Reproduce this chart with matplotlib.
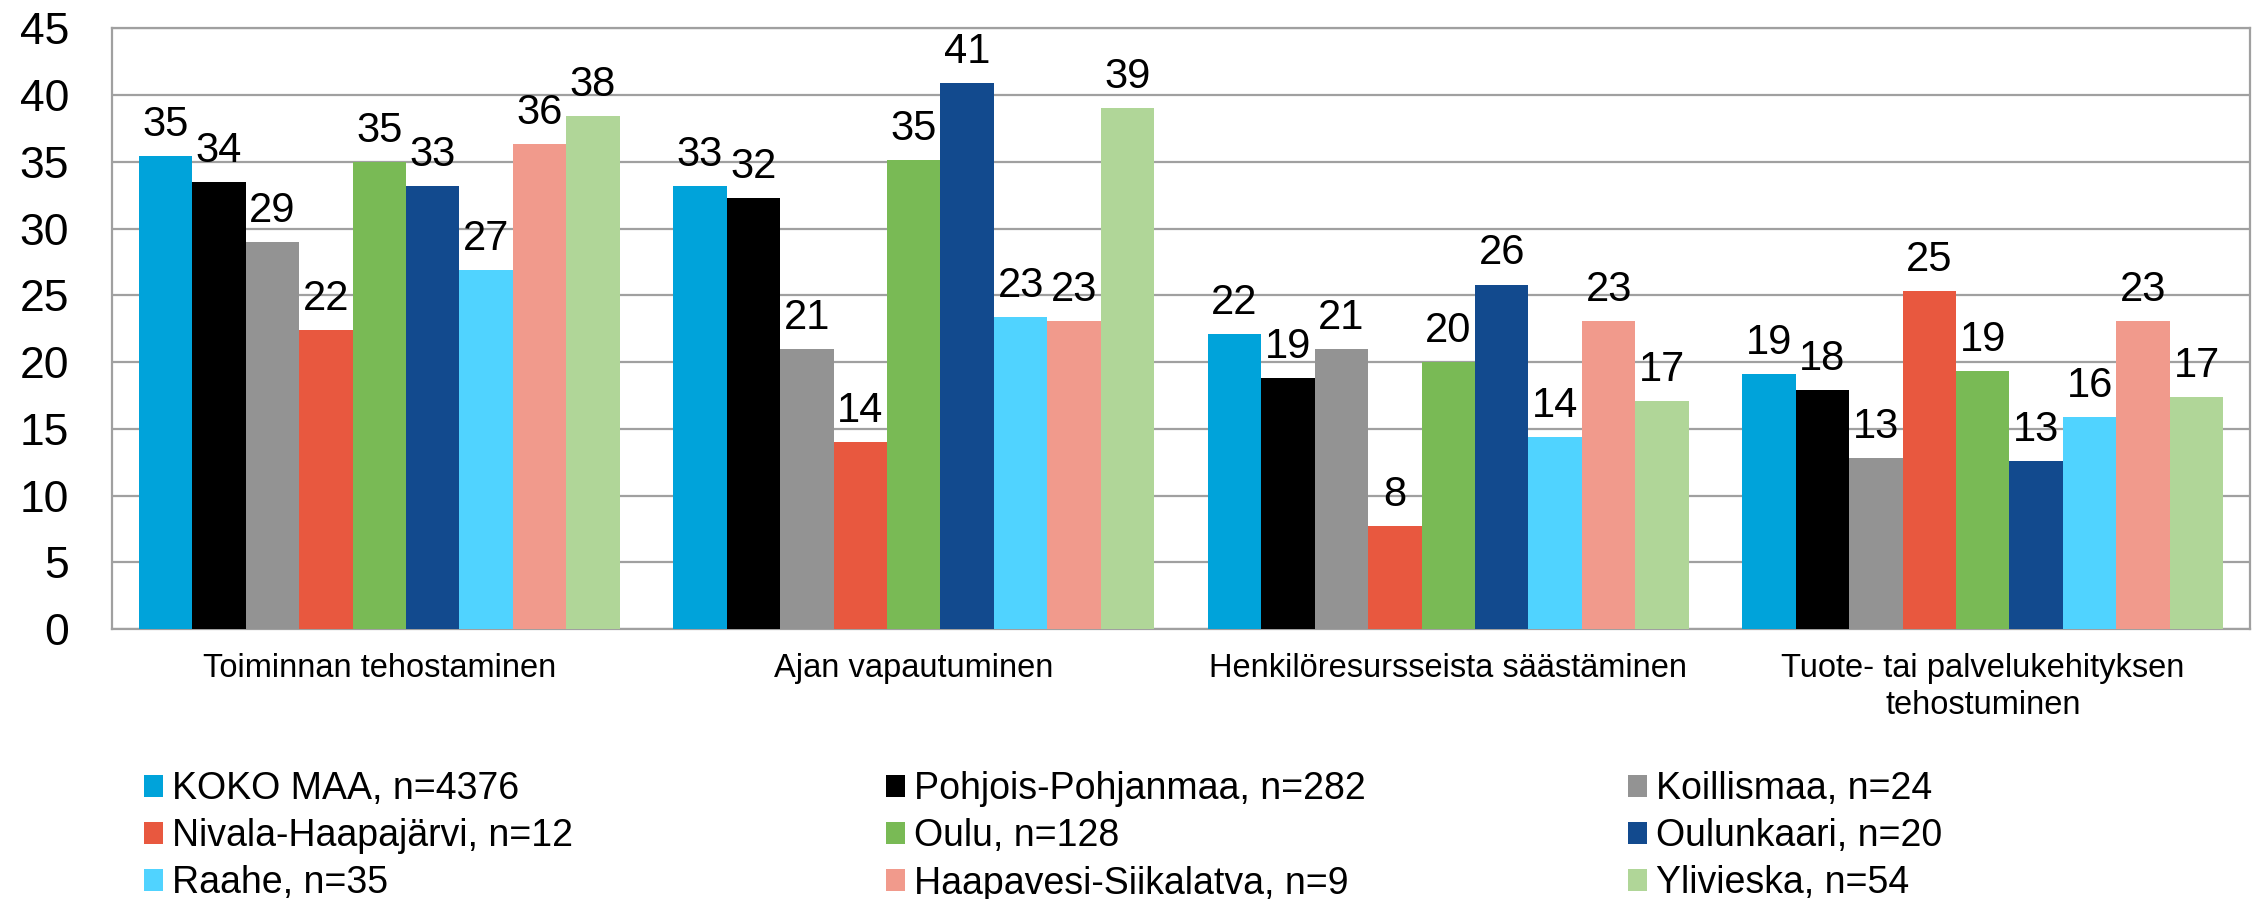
import numpy as np
import matplotlib
matplotlib.use("Agg")
import matplotlib.pyplot as plt
from matplotlib.patches import Patch

plt.rcParams['font.family'] = ['Liberation Sans', 'DejaVu Sans']

# kategoriat (x-akseli)
categories = [
    "Toiminnan tehostaminen",
    "Ajan vapautuminen",
    "Henkilöresursseista säästäminen",
    "Tuote- tai palvelukehityksen\ntehostuminen",
]

# sarjat
series_names = [
    "KOKO MAA, n=4376",
    "Pohjois-Pohjanmaa, n=282",
    "Koillismaa, n=24",
    "Nivala-Haapajärvi, n=12",
    "Oulu, n=128",
    "Oulunkaari, n=20",
    "Raahe, n=35",
    "Haapavesi-Siikalatva, n=9",
    "Ylivieska, n=54",
]

koko_maa = [35.4, 33.2, 22.1, 19.1]
pohjois_pohjanmaa = [33.5, 32.3, 18.8, 17.9]
koillismaa = [29.0, 21.0, 21.0, 12.8]
nivala_haapajarvi = [22.4, 14.0, 7.7, 25.3]
oulu = [35.0, 35.1, 20.0, 19.3]
oulunkaari = [33.2, 40.9, 25.8, 12.6]
raahe = [26.9, 23.4, 14.4, 15.9]
haapavesi_siikalatva = [36.3, 23.1, 23.1, 23.1]
ylivieska = [38.4, 39.0, 17.1, 17.4]

values = [koko_maa, pohjois_pohjanmaa, koillismaa, nivala_haapajarvi, oulu,
          oulunkaari, raahe, haapavesi_siikalatva, ylivieska]

colors = ["#00A3DA", "#000000", "#939393", "#E8583F", "#79BA55",
          "#124A8E", "#50D3FF", "#F19A8C", "#B0D698"]

GRID = "#A0A0A0"

fig = plt.figure(figsize=(22.6, 8.99), dpi=100)
ax = fig.add_axes([0.04956, 0.30033, 0.94602, 0.66819])

x = np.arange(len(categories))
width = 0.1
for i, (vals, col) in enumerate(zip(values, colors)):
    pos = x - 0.4 + i * width
    ax.bar(pos, vals, width=width, color=col, zorder=3, linewidth=0)
    for px, v in zip(pos, vals):
        ax.annotate(f"{v:.0f}", (px, v), xytext=(0, 8), textcoords="offset points",
                    ha="center", va="bottom", fontsize=30, color="black", zorder=4)

ax.set_xlim(-0.5, len(categories) - 0.5)
ax.set_ylim(0, 45)
ax.set_yticks(np.arange(0, 46, 5))
ax.yaxis.grid(True, color=GRID, linewidth=1.6, zorder=0)
ax.set_axisbelow(True)
ax.tick_params(axis="y", length=0, pad=31, labelsize=32)
ax.set_xticks(x)
ax.set_xticklabels(categories, fontsize=23.5, linespacing=1.27)
ax.tick_params(axis="x", length=0, pad=17)
for s in ax.spines.values():
    s.set_color(GRID)
    s.set_linewidth(1.6)

# selite kolmessa sarakkeessa, rivijärjestyksessä
col_x = [144, 886, 1628]
for c in range(3):
    idx = [c, c + 3, c + 6]
    handles = [Patch(facecolor=colors[k], edgecolor="none") for k in idx]
    labels = [series_names[k] for k in idx]
    fig.legend(handles, labels, loc="upper left",
               bbox_to_anchor=(col_x[c] / 2260, 1 - 771 / 899),
               frameon=False, fontsize=27, borderpad=0, borderaxespad=0,
               handlelength=0.51, handleheight=0.51, handletextpad=0.24,
               labelspacing=0.3)

fig.savefig("out.png", dpi=100)
